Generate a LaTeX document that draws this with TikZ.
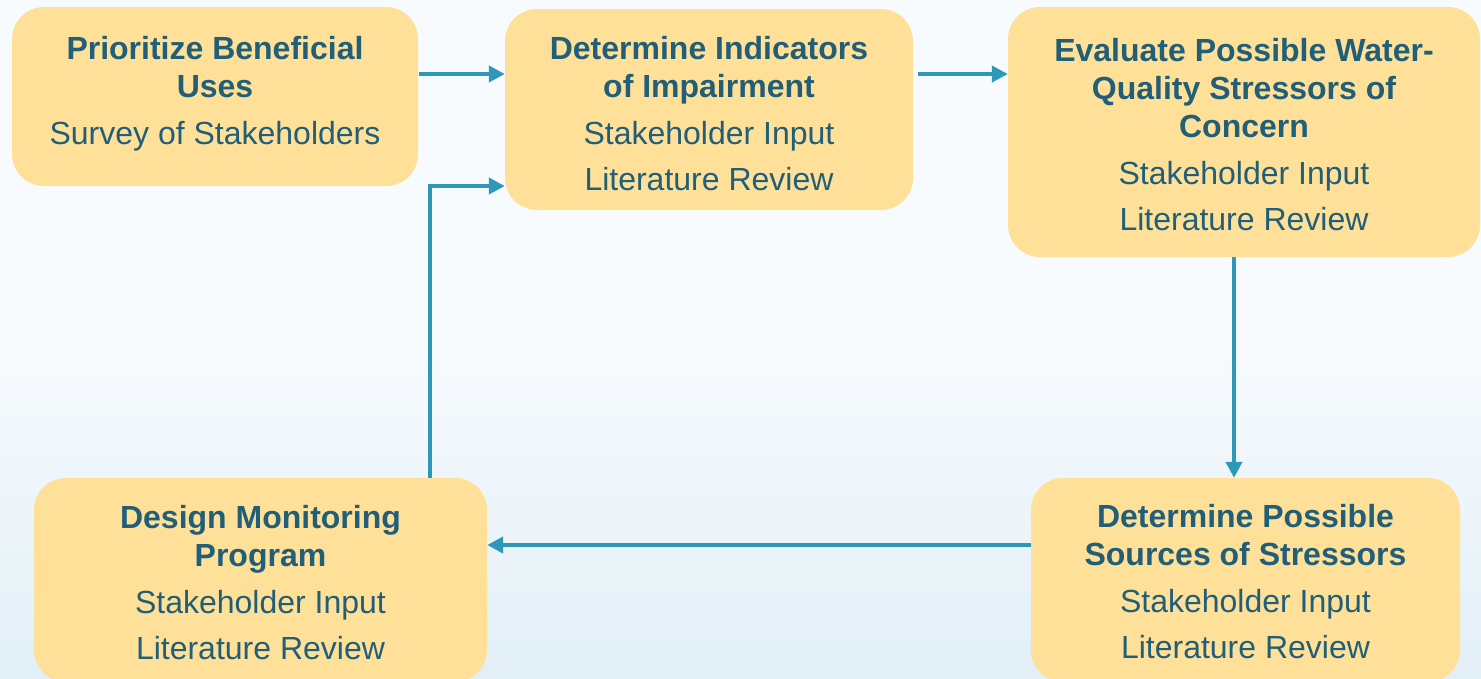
\documentclass[tikz,border=0pt]{standalone}
\usepackage{fontspec}
\setmainfont{Liberation Sans}
\usetikzlibrary{arrows.meta}
\definecolor{boxfill}{RGB}{255,224,153}
\definecolor{txt}{RGB}{33,94,120}
\definecolor{arr}{RGB}{46,152,184}
\definecolor{bgtop}{RGB}{248,251,254}
\definecolor{bgbot}{RGB}{226,239,246}
\tikzset{
  box/.style={rectangle, rounded corners=32pt, fill=boxfill, draw=none, inner sep=0pt},
  label text/.style={inner sep=0pt, align=center, text=txt, font=\fontsize{32}{38}\selectfont},
  conn/.style={draw=arr, line width=4pt, -{Triangle[length=16pt,width=16pt]}}
}
\begin{document}
\begin{tikzpicture}[x=1pt,y=-1pt]
\useasboundingbox (0,0) rectangle (1481,678);
\clip (0,0) rectangle (1481,678);
\shade[top color=bgtop, bottom color=bgbot, middle color=bgtop] (0,0) rectangle (1481,678);
\node[box, minimum width=406pt, minimum height=179pt] (A) at (215,96.5) {};
\node[box, minimum width=408pt, minimum height=201pt] (B) at (709,109.5) {};
\node[box, minimum width=472pt, minimum height=250pt] (C) at (1244,132) {};
\node[box, minimum width=429pt, minimum height=204pt] (D) at (1245.5,580) {};
\node[box, minimum width=453pt, minimum height=204pt] (E) at (260.5,580) {};
\node[label text, yshift=3pt] (At) at (A.center)
  {\textbf{Prioritize Beneficial}\\\textbf{Uses}\\[9pt]Survey of Stakeholders};
\node[label text, yshift=-4pt] (Bt) at (B.center)
  {\textbf{Determine Indicators}\\\textbf{of Impairment}\\[9pt]Stakeholder Input\\[8pt]Literature Review};
\node[label text, yshift=-3pt] (Ct) at (C.center)
  {\textbf{Evaluate Possible Water-}\\\textbf{Quality Stressors of}\\\textbf{Concern}\\[9pt]Stakeholder Input\\[8pt]Literature Review};
\node[label text, yshift=-2pt] (Dt) at (D.center)
  {\textbf{Determine Possible}\\\textbf{Sources of Stressors}\\[9pt]Stakeholder Input\\[8pt]Literature Review};
\node[label text, yshift=-3pt] (Et) at (E.center)
  {\textbf{Design Monitoring}\\\textbf{Program}\\[9pt]Stakeholder Input\\[8pt]Literature Review};
\coordinate (r1) at (0,74);
\coordinate (c3) at (1234,0);
\coordinate (r4) at (0,545);
\coordinate (bend) at (430,186);
\draw[conn] ([xshift=1pt]A.east |- r1) -- (B.west |- r1);
\draw[conn] ([xshift=5pt]B.east |- r1) -- (C.west |- r1);
\draw[conn] (C.south -| c3) -- (D.north -| c3);
\draw[conn] (D.west |- r4) -- (E.east |- r4);
\draw[conn] (E.north -| bend) -- (bend) -- (B.west |- bend);
\end{tikzpicture}
\end{document}
